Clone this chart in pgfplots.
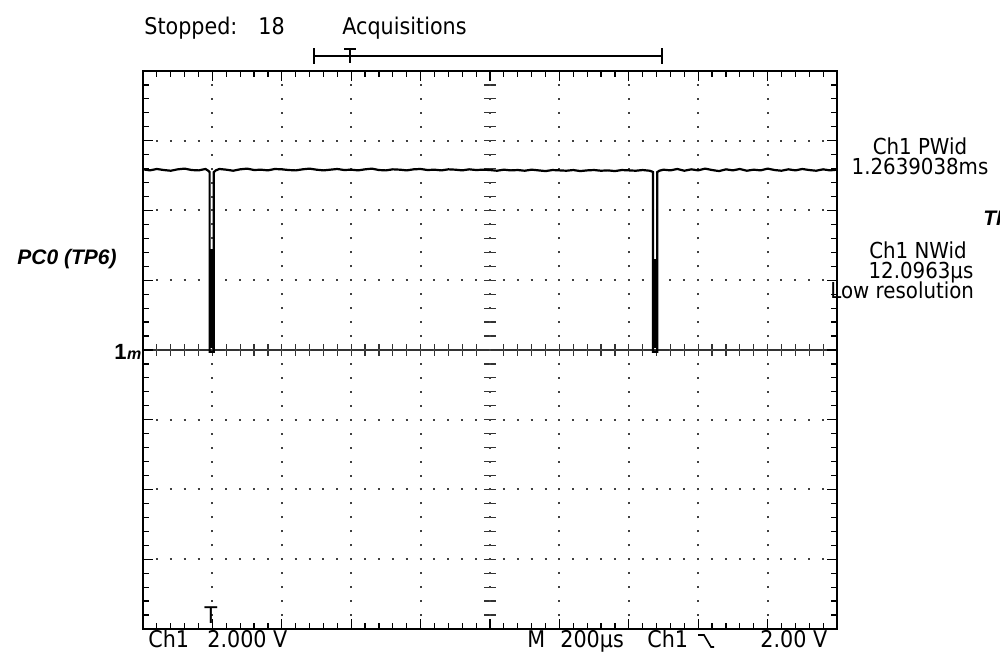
\documentclass[border=0pt]{standalone}
\usepackage{fontspec}
\setmainfont{DejaVu Sans}[FakeStretch=0.9]
\newfontfamily\hv{Liberation Sans}
\usepackage{pgfplots}
\pgfplotsset{compat=1.18}
\begin{document}
\begin{tikzpicture}
\useasboundingbox (0,0) rectangle (500pt,326pt);
\clip (0,0) rectangle (500pt,326pt);
\fill[white] (0,0) rectangle (500pt,326pt);
\fontsize{11.5}{13}\selectfont
% centre cross of the graticule
\begin{axis}[at={(71.5pt,11.5pt)}, anchor=south west, scale only axis,
  width=347pt, height=279pt,
  xmin=-1000, xmax=1000, ymin=-8, ymax=8,
  axis lines=middle,
  x axis line style={-, black!80, line width=0.6pt},
  y axis line style={draw=none},
  xtick={-1000,-800,...,1000}, ytick={-8,-6,...,8},
  minor x tick num=4, minor y tick num=4,
  tick align=center, major tick length=6pt, minor tick length=6pt,
  xticklabel=\empty, yticklabel=\empty,
  tick style={black!80, line width=0.6pt}]
\end{axis}
% main graticule and trace
\begin{axis}[at={(71.5pt,11.5pt)}, anchor=south west, scale only axis,
  width=347pt, height=279pt,
  xmin=0, xmax=2000, ymin=-8, ymax=8,
  xtick={0,200,...,2000}, ytick={-8,-6,...,8},
  minor x tick num=4, minor y tick num=4,
  tick align=inside, tick pos=both,
  major tick length=5pt, minor tick length=3pt,
  xticklabel=\empty, yticklabel=\empty,
  grid=major,
  x grid style={black!75, line width=1pt, dash pattern=on 1pt off 5.975pt, dash phase=0.5pt},
  y grid style={black!75, line width=1pt, dash pattern=on 1pt off 5.94pt, dash phase=0.5pt},
  axis line style={black, line width=1pt},
  tick style={black, line width=0.6pt},
  clip=false]
\addplot[black, line width=1.1pt, mark=none] coordinates {
(0,5.18) (20,5.15) (40,5.19) (60,5.16) (80,5.14) (100,5.18) (120,5.20) (140,5.16)
(160,5.15) (180,5.19) (188,5.14) (192,5.10) (192,-0.05) (204,-0.05) (204,5.10)
(210,5.15) (220,5.19) (240,5.17) (260,5.14) (280,5.18) (300,5.20) (320,5.16)
(340,5.17) (360,5.15) (380,5.19) (400,5.18) (420,5.16) (440,5.15) (460,5.18)
(480,5.20) (500,5.17) (520,5.15) (540,5.17) (560,5.19) (580,5.16) (600,5.17)
(620,5.15) (640,5.18) (660,5.20) (680,5.16) (700,5.15) (720,5.18) (740,5.17)
(760,5.15) (780,5.18) (800,5.19) (820,5.16) (840,5.17) (860,5.15) (880,5.18)
(900,5.17) (920,5.15) (940,5.18) (960,5.16) (980,5.17) (1000,5.16) (1020,5.14)
(1040,5.17) (1060,5.15) (1080,5.16) (1100,5.14) (1120,5.17) (1140,5.15) (1160,5.13)
(1180,5.16) (1200,5.15) (1220,5.14) (1240,5.16) (1260,5.13) (1280,5.15) (1300,5.16)
(1320,5.14) (1340,5.15) (1360,5.13) (1380,5.16) (1400,5.15) (1420,5.14) (1440,5.16)
(1460,5.14) (1466,5.12) (1470,5.10) (1470,-0.05) (1482,-0.05) (1482,5.10) (1488,5.14)
(1500,5.17) (1520,5.15) (1540,5.19) (1560,5.14) (1580,5.18) (1600,5.15) (1620,5.20)
(1640,5.16) (1660,5.13) (1680,5.18) (1700,5.15) (1720,5.19) (1740,5.14) (1760,5.17)
(1780,5.15) (1800,5.20) (1820,5.16) (1840,5.14) (1860,5.18) (1880,5.15) (1900,5.19)
(1920,5.16) (1940,5.14) (1960,5.18) (1980,5.15) (2000,5.17)
};
\addplot[black, line width=2.6pt, mark=none] coordinates {(198,0.05) (198,2.9)};
\addplot[black, line width=2.6pt, mark=none] coordinates {(1476,0.05) (1476,2.6)};
\node[anchor=south, inner sep=0pt] at (axis cs:196,-7.85) {T};
\end{axis}
% top annotations
\node[anchor=base west, inner sep=0pt] at (72pt,308.5pt) {Stopped:};
\node[anchor=base west, inner sep=0pt] at (129pt,308.5pt) {18};
\node[anchor=base west, inner sep=0pt] at (171pt,308.5pt) {Acquisitions};
\draw[black, line width=0.7pt] (157pt,298pt) -- (331pt,298pt);
\draw[black, line width=1.1pt] (157pt,294pt) -- (157pt,302pt);
\draw[black, line width=1.1pt] (331pt,294pt) -- (331pt,302pt);
\draw[black, line width=0.8pt] (172pt,301.5pt) -- (178pt,301.5pt) (175pt,301.5pt) -- (175pt,294.5pt);
% right readouts
\begin{scope}[every node/.style={inner sep=0pt, font=\fontsize{11}{12}\selectfont}]
\node[anchor=base] at (460pt,248.5pt) {Ch1 PWid};
\node[anchor=base] at (460pt,238.5pt) {1.2639038ms};
\node[anchor=base] at (459pt,196.5pt) {Ch1 NWid};
\node[anchor=base] at (460.5pt,186.5pt) {12.0963µs};
\node[anchor=base west] at (415pt,176.5pt) {Low resolution};
\end{scope}
\node[anchor=base west, inner sep=0pt, font=\hv\bfseries\itshape\fontsize{10.5}{12}\selectfont] at (491.5pt,213pt) {TP5};
% left labels
\node[anchor=base west, inner sep=0pt, font=\hv\bfseries\itshape\fontsize{10.5}{12}\selectfont] at (8.5pt,193.5pt) {PC0 (TP6)};
\node[anchor=base west, inner sep=0pt, font=\hv\bfseries\fontsize{11}{12}\selectfont] at (57pt,146pt) {1\kern0.3pt\textit{\fontsize{8}{9}\selectfont m}};
% bottom readouts
\node[anchor=base west, inner sep=0pt] at (74pt,2pt) {Ch1};
\node[anchor=base west, inner sep=0pt] at (103.5pt,2pt) {2.000 V};
\node[anchor=base west, inner sep=0pt] at (263.5pt,2pt) {M};
\node[anchor=base west, inner sep=0pt] at (280pt,2pt) {200µs};
\node[anchor=base west, inner sep=0pt] at (323.5pt,2pt) {Ch1};
\draw[black, line width=0.8pt] (349pt,8.5pt) -- (352pt,8.5pt) -- (355.5pt,2.5pt) -- (357pt,2.5pt);
\node[anchor=base west, inner sep=0pt] at (380pt,2pt) {2.00 V};
\end{tikzpicture}
\end{document}
